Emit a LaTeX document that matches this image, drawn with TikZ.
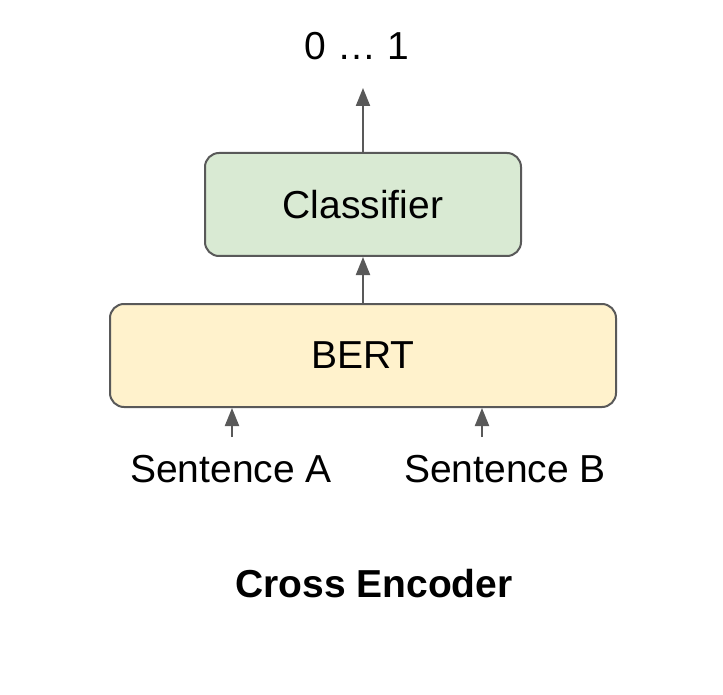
\documentclass[tikz,border=0pt]{standalone}
\usepackage{fontspec}
\setmainfont{Liberation Sans}
\usetikzlibrary{arrows.meta}
\definecolor{edgegray}{HTML}{595959}
\definecolor{clsgreen}{HTML}{D9EAD3}
\definecolor{bertyellow}{HTML}{FFF2CC}
\tikzset{
  box/.style={draw=edgegray, line width=2pt, rounded corners=14pt, inner sep=0pt,
    font=\fontsize{39}{46}\selectfont},
  lbl/.style={inner sep=0pt, font=\fontsize{39}{46}\selectfont},
  conn/.style={draw=edgegray, line width=2pt, -{Triangle[width=14pt,length=18pt]}}
}
\begin{document}
\begin{tikzpicture}[x=1pt,y=-1pt]
\useasboundingbox (0,0) rectangle (723,695);
\node[box, fill=clsgreen, minimum width=316pt, minimum height=103pt] (cls) at (363,204.5) {Classifier};
\node[box, fill=bertyellow, minimum width=506pt, minimum height=103pt] (bert) at (363,355.5) {BERT};
\node[lbl] (out) at (357,46) {0 … 1};
\node[lbl] (sa) at (231,469) {Sentence A};
\node[lbl] (sb) at (505,469) {Sentence B};
\node[inner sep=0pt, font=\fontsize{39}{46}\selectfont\bfseries] (title) at (374,584) {Cross Encoder};
\coordinate (outtip) at (363,88);
\coordinate (sa0) at (232,437);
\coordinate (sb0) at (482,437);
\draw[conn] (cls.north) -- (outtip);
\draw[conn] (bert.north) -- (cls.south);
\draw[conn] (sa0) -- (sa0 |- bert.south);
\draw[conn] (sb0) -- (sb0 |- bert.south);
\end{tikzpicture}
\end{document}
